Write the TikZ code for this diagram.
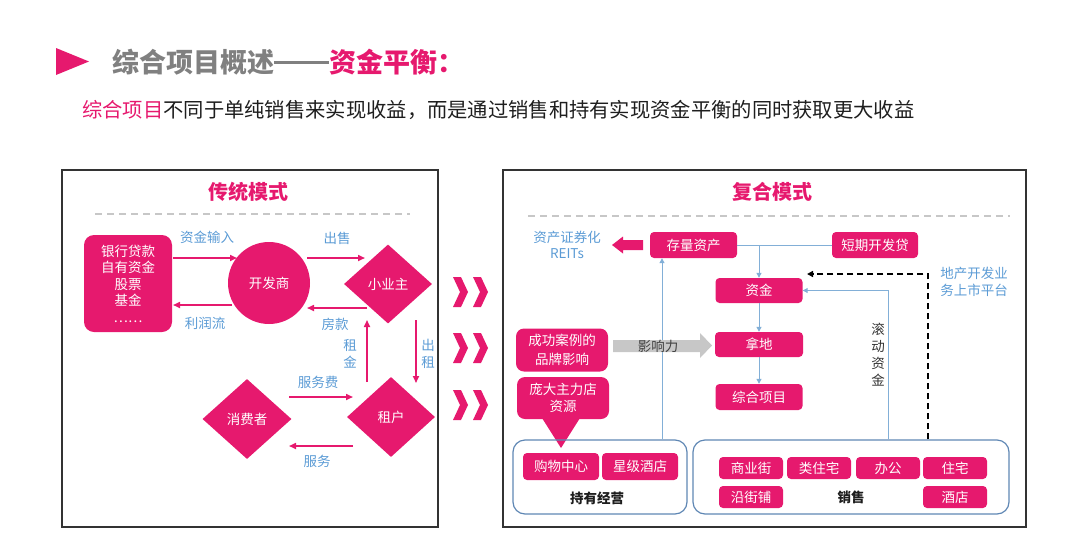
\documentclass[tikz,border=0pt]{standalone}
\usepackage{fontspec}
\setmainfont{Noto Sans CJK SC}
\usetikzlibrary{shapes.geometric,arrows.meta}
\definecolor{pk}{RGB}{230,25,110}
\definecolor{lb}{RGB}{91,155,213}
\definecolor{ln}{RGB}{130,175,215}
\definecolor{cb}{RGB}{95,135,180}
\definecolor{tg}{RGB}{128,128,128}
\definecolor{tx}{RGB}{30,30,30}
\newcommand{\myfs}[2]{\fontsize{#1}{#2}\selectfont}
\begin{document}
\begin{tikzpicture}[x=1pt,y=-1pt,
  panel/.style={draw=black!80,line width=1.5pt,inner sep=0pt},
  head/.style={text=pk,font=\bfseries\myfs{20}{24},inner sep=0pt},
  sepline/.style={draw=black!22,line width=1.4pt,dash pattern=on 7pt off 5pt},
  pbox/.style={fill=pk,text=white,rounded corners=4pt,inner sep=0pt,font=\myfs{13.5}{16.5},align=center},
  dia/.style={diamond,fill=pk,text=white,inner sep=0pt,font=\myfs{13.5}{16.5}},
  lbl/.style={text=lb,inner sep=0pt,font=\myfs{13.5}{16.5},align=center},
  parr/.style={draw=pk,line width=1.6pt,-{Triangle[length=7pt,width=6pt]}},
  bl/.style={draw=ln,line width=1pt},
  bla/.style={draw=ln,line width=1pt,-{Triangle[length=5pt,width=5pt]}},
  dsh/.style={draw=black,line width=1.5pt,dash pattern=on 6pt off 4pt,-{Triangle[length=6pt,width=6pt]}},
  cont/.style={draw=cb,line width=1.2pt,rounded corners=12pt,inner sep=0pt},
  blk/.style={text=tx,font=\bfseries\myfs{13.5}{16.5},inner sep=0pt},
  chev/.style={fill=pk}
]
\useasboundingbox (0,0) rectangle (1080,555);
% title
\fill[pk] (56,48) -- (89,61.5) -- (56,75) -- cycle;
\node[anchor=west,inner sep=0pt,font=\bfseries\myfs{27}{30}] (title) at (112,62) {\textcolor{tg}{综合项目概述\rule[8.6pt]{55pt}{2.6pt}}\textcolor{pk}{资金平衡：}};
\node[anchor=west,inner sep=0pt,font=\myfs{20.3}{24},text=tx] (sub) at (82,110) {\textcolor{pk}{综合项目}不同于单纯销售来实现收益，而是通过销售和持有实现资金平衡的同时获取更大收益};
% panels
\node[panel,minimum width=376pt,minimum height=357pt] (lp) at (250,348.5) {};
\node[panel,minimum width=523pt,minimum height=357pt] (rp) at (764.5,348.5) {};
\node[head] (lh) at (248,192) {传统模式};
\node[head] (rh) at (772,192) {复合模式};
\draw[sepline] (95,214) -- (410,214);
\draw[sepline] (528,216) -- (1010,216);
% left nodes
\node[pbox,rounded corners=10pt,minimum width=88pt,minimum height=97pt] (bank) at (128,283.5) {银行贷款\\自有资金\\股票\\基金\\……};
\node[circle,fill=pk,text=white,minimum size=82pt,inner sep=0pt,font=\myfs{13.5}{16.5}] (dev) at (269,283) {开发商};
\node[dia,minimum width=88pt,minimum height=79pt] (owner) at (388,284) {小业主};
\node[dia,minimum width=89pt,minimum height=80pt] (cons) at (247,419) {消费者};
\node[dia,minimum width=88pt,minimum height=80pt] (ten) at (391,417) {租户};
% left arrows
\coordinate (a1s) at (173,258); \coordinate (a1e) at (237,258);
\coordinate (a2s) at (232,305); \coordinate (a2e) at (173,305);
\coordinate (a3s) at (307,258); \coordinate (a3e) at (365,258);
\coordinate (a4s) at (367,308); \coordinate (a4e) at (307,308);
\coordinate (a5s) at (367,382); \coordinate (a5e) at (367,320);
\coordinate (a6s) at (416,320); \coordinate (a6e) at (416,383);
\coordinate (a7s) at (289,397); \coordinate (a7e) at (353,397);
\coordinate (a8s) at (353,446); \coordinate (a8e) at (289,446);
\draw[parr] (a1s) -- (a1e);
\draw[parr] (a2s) -- (a2e);
\draw[parr] (a3s) -- (a3e);
\draw[parr] (a4s) -- (a4e);
\draw[parr] (a5s) -- (a5e);
\draw[parr] (a6s) -- (a6e);
\draw[parr] (a7s) -- (a7e);
\draw[parr] (a8s) -- (a8e);
\node[lbl] (l1) at (207,237) {资金输入};
\node[lbl] (l2) at (205,323) {利润流};
\node[lbl] (l3) at (337,238) {出售};
\node[lbl] (l4) at (335,324) {房款};
\node[lbl,font=\myfs{13.5}{17}] (l5) at (350,353.5) {租\\金};
\node[lbl,font=\myfs{13.5}{17}] (l6) at (428,353.5) {出\\租};
\node[lbl] (l7) at (318,382) {服务费};
\node[lbl] (l8) at (317,461) {服务};
% chevrons
\foreach \cy in {292,348,405}{
  \fill[chev] (453,\cy-15) -- (461,\cy-15) -- (468,\cy) -- (461,\cy+15) -- (453,\cy+15) -- (460,\cy) -- cycle;
  \fill[chev] (473,\cy-15) -- (481,\cy-15) -- (488,\cy) -- (481,\cy+15) -- (473,\cy+15) -- (480,\cy) -- cycle;
}
% right nodes
\node[pbox,minimum width=87pt,minimum height=26pt] (stock) at (693.5,245) {存量资产};
\node[pbox,minimum width=86pt,minimum height=26pt] (loan) at (875,245) {短期开发贷};
\node[pbox,minimum width=87pt,minimum height=25pt] (zj) at (759,290.5) {资金};
\node[pbox,minimum width=88pt,minimum height=25pt] (nd) at (759,344.5) {拿地};
\node[pbox,minimum width=87pt,minimum height=26pt] (zh) at (759,397) {综合项目};
\node[pbox,rounded corners=8pt,minimum width=92pt,minimum height=43pt,font=\myfs{13.5}{19}] (brand) at (562,350) {成功案例的\\品牌影响};
\node[pbox,rounded corners=8pt,minimum width=92pt,minimum height=42pt,font=\myfs{13.5}{17}] (anchor) at (563,398) {庞大主力店\\资源};
\fill[pk] (542,418) -- (580,418) -- (561,448) -- cycle;
\node[cont,minimum width=174pt,minimum height=74pt] (hold) at (600,477) {};
\node[cont,minimum width=316pt,minimum height=74pt] (sell) at (851,477) {};
\node[pbox,minimum width=76pt,minimum height=27pt] (mall) at (561,466.5) {购物中心};
\node[pbox,minimum width=76pt,minimum height=27pt] (hotel) at (640,466.5) {星级酒店};
\node[blk] (holdl) at (597,498) {持有经营};
\node[pbox,minimum width=64pt,minimum height=22pt] (s1) at (751,468) {商业街};
\node[pbox,minimum width=64pt,minimum height=22pt] (s2) at (819,468) {类住宅};
\node[pbox,minimum width=64pt,minimum height=22pt] (s3) at (888,468) {办公};
\node[pbox,minimum width=64pt,minimum height=22pt] (s4) at (955,468) {住宅};
\node[pbox,minimum width=64pt,minimum height=22pt] (s5) at (751,497) {沿街铺};
\node[pbox,minimum width=64pt,minimum height=22pt] (s6) at (955,497) {酒店};
\node[blk] (selll) at (851,497) {销售};
% right connectors
\draw[bl] (stock.east) -- (loan.west);
\coordinate (j1) at (zj.north |- stock.east);
\draw[bla] (j1) -- (zj.north);
\draw[bla] (zj.south) -- (nd.north);
\draw[bla] (nd.south) -- (zh.north);
\coordinate (r0) at (888,300);
\draw[bla] (r0 |- sell.north) |- (zj.east);
\coordinate (u0) at (662,300);
\draw[bla] (u0 |- hold.north) -- (u0 |- stock.south);
\coordinate (d0) at (928,300);
\coordinate (d1) at (807,274);
\draw[dsh] (d0 |- sell.north) |- (d1);
% block arrows
\fill[pk] (643,240) -- (623,240) -- (623,236.5) -- (612,245) -- (623,253.5) -- (623,250) -- (643,250) -- cycle;
\fill[black!22] (613,340) -- (700,340) -- (700,333) -- (712,345.5) -- (700,358) -- (700,352) -- (613,352) -- cycle;
\node[inner sep=0pt,text=black!75,font=\myfs{13.5}{16.5}] (infl) at (658,346) {影响力};
% right labels
\node[lbl,font=\myfs{13.5}{16}] (reit) at (567,245) {资产证券化\\REITs};
\node[lbl,font=\myfs{13.5}{17}] (plat) at (974,281.5) {地产开发业\\务上市平台};
\node[inner sep=0pt,text=black!80,font=\myfs{13.5}{17},align=center] (roll) at (878,354.5) {滚\\动\\资\\金};
\end{tikzpicture}
\end{document}
